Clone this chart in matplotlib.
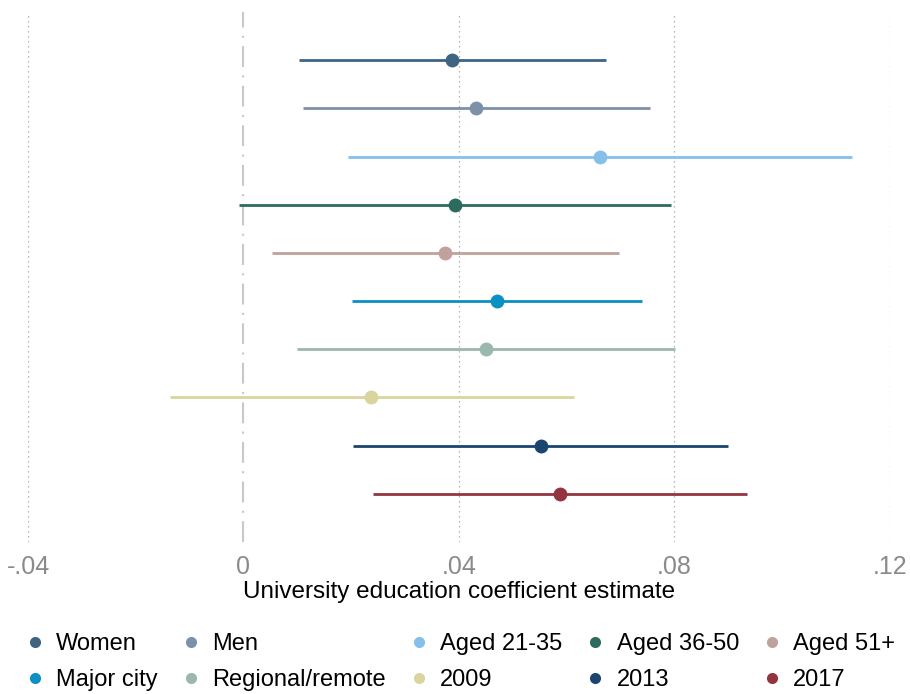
#!/usr/bin/env python3
"""Coefficient plot of the university education estimate across subgroups."""

from __future__ import annotations

import matplotlib

matplotlib.use("Agg")
import matplotlib.pyplot as plt
from matplotlib.lines import Line2D

plt.rcParams["font.family"] = ["Liberation Sans", "DejaVu Sans"]

# subgroup estimates with 95% confidence bounds
groups = [
    "Women", "Men", "Aged 21-35", "Aged 36-50", "Aged 51+",
    "Major city", "Regional/remote", "2009", "2013", "2017",
]
estimates = [0.0388, 0.0431, 0.0662, 0.0392, 0.0375, 0.0470, 0.0450, 0.0237, 0.0552, 0.0587]
ci_low = [0.0104, 0.0110, 0.0195, -0.0008, 0.0053, 0.0202, 0.0100, -0.0137, 0.0204, 0.0240]
ci_high = [0.0674, 0.0754, 0.1129, 0.0793, 0.0698, 0.0739, 0.0802, 0.0613, 0.0899, 0.0934]

x_ticks = [-0.04, 0, 0.04, 0.08, 0.12]
x_tick_labels = ["-.04", "0", ".04", ".08", ".12"]

palette = [
    "#3e6482", "#7c91a9", "#86c0ea", "#2c6b5e", "#c1a19b",
    "#0a90c2", "#9ab8b0", "#dad59f", "#1b4570", "#93343e",
]

LEGEND_COLS = 5


def main() -> None:
    fig = plt.figure(figsize=(9.1, 6.94), dpi=100)
    ax = fig.add_axes([0.0308, 0.219, 0.947, 0.7637])

    n = len(groups)
    for i, (label, est, lo, hi, color) in enumerate(zip(groups, estimates, ci_low, ci_high, palette)):
        y = n - i
        ax.plot([lo, hi], [y, y], color=color, linewidth=2, solid_capstyle="butt", zorder=3)
        ax.plot(est, y, "o", color=color, markersize=10, markeredgewidth=0, zorder=4)

    for xv in x_ticks:
        if xv == 0:
            ax.axvline(xv, color="#c8c8c8", linewidth=1.5, linestyle=(0, (10, 4, 1, 4)), zorder=1)
        else:
            ax.axvline(xv, color="#a0a0a0", linewidth=0.9, linestyle=(0, (1, 3)), zorder=1)

    ax.set_xlim(-0.04, 0.12)
    ax.set_ylim(0, n + 1)
    ax.set_xticks(x_ticks)
    ax.set_xticklabels(x_tick_labels)
    ax.set_yticks([])
    ax.tick_params(axis="x", length=0, pad=9, labelsize=18, labelcolor="#8a8a8a")
    ax.set_xlabel("University education coefficient estimate", fontsize=17.5, labelpad=2)
    for spine in ax.spines.values():
        spine.set_visible(False)

    handles = [
        Line2D([], [], linestyle="none", marker="o", markersize=8, markeredgewidth=0, color=c)
        for c in palette
    ]
    # legend fills column by column, so interleave to get row-wise order
    n_rows = (n + LEGEND_COLS - 1) // LEGEND_COLS
    order = [r * LEGEND_COLS + c for c in range(LEGEND_COLS) for r in range(n_rows)]
    fig.legend(
        [handles[k] for k in order],
        [groups[k] for k in order],
        loc="upper left",
        bbox_to_anchor=(0.028, 0.088),
        ncol=LEGEND_COLS,
        frameon=False,
        fontsize=17,
        handlelength=0.8,
        handletextpad=0.5,
        columnspacing=1.0,
        labelspacing=0.6,
        borderpad=0,
        borderaxespad=0,
    )

    fig.savefig("out.png", dpi=100)
    plt.close(fig)


if __name__ == "__main__":
    main()
